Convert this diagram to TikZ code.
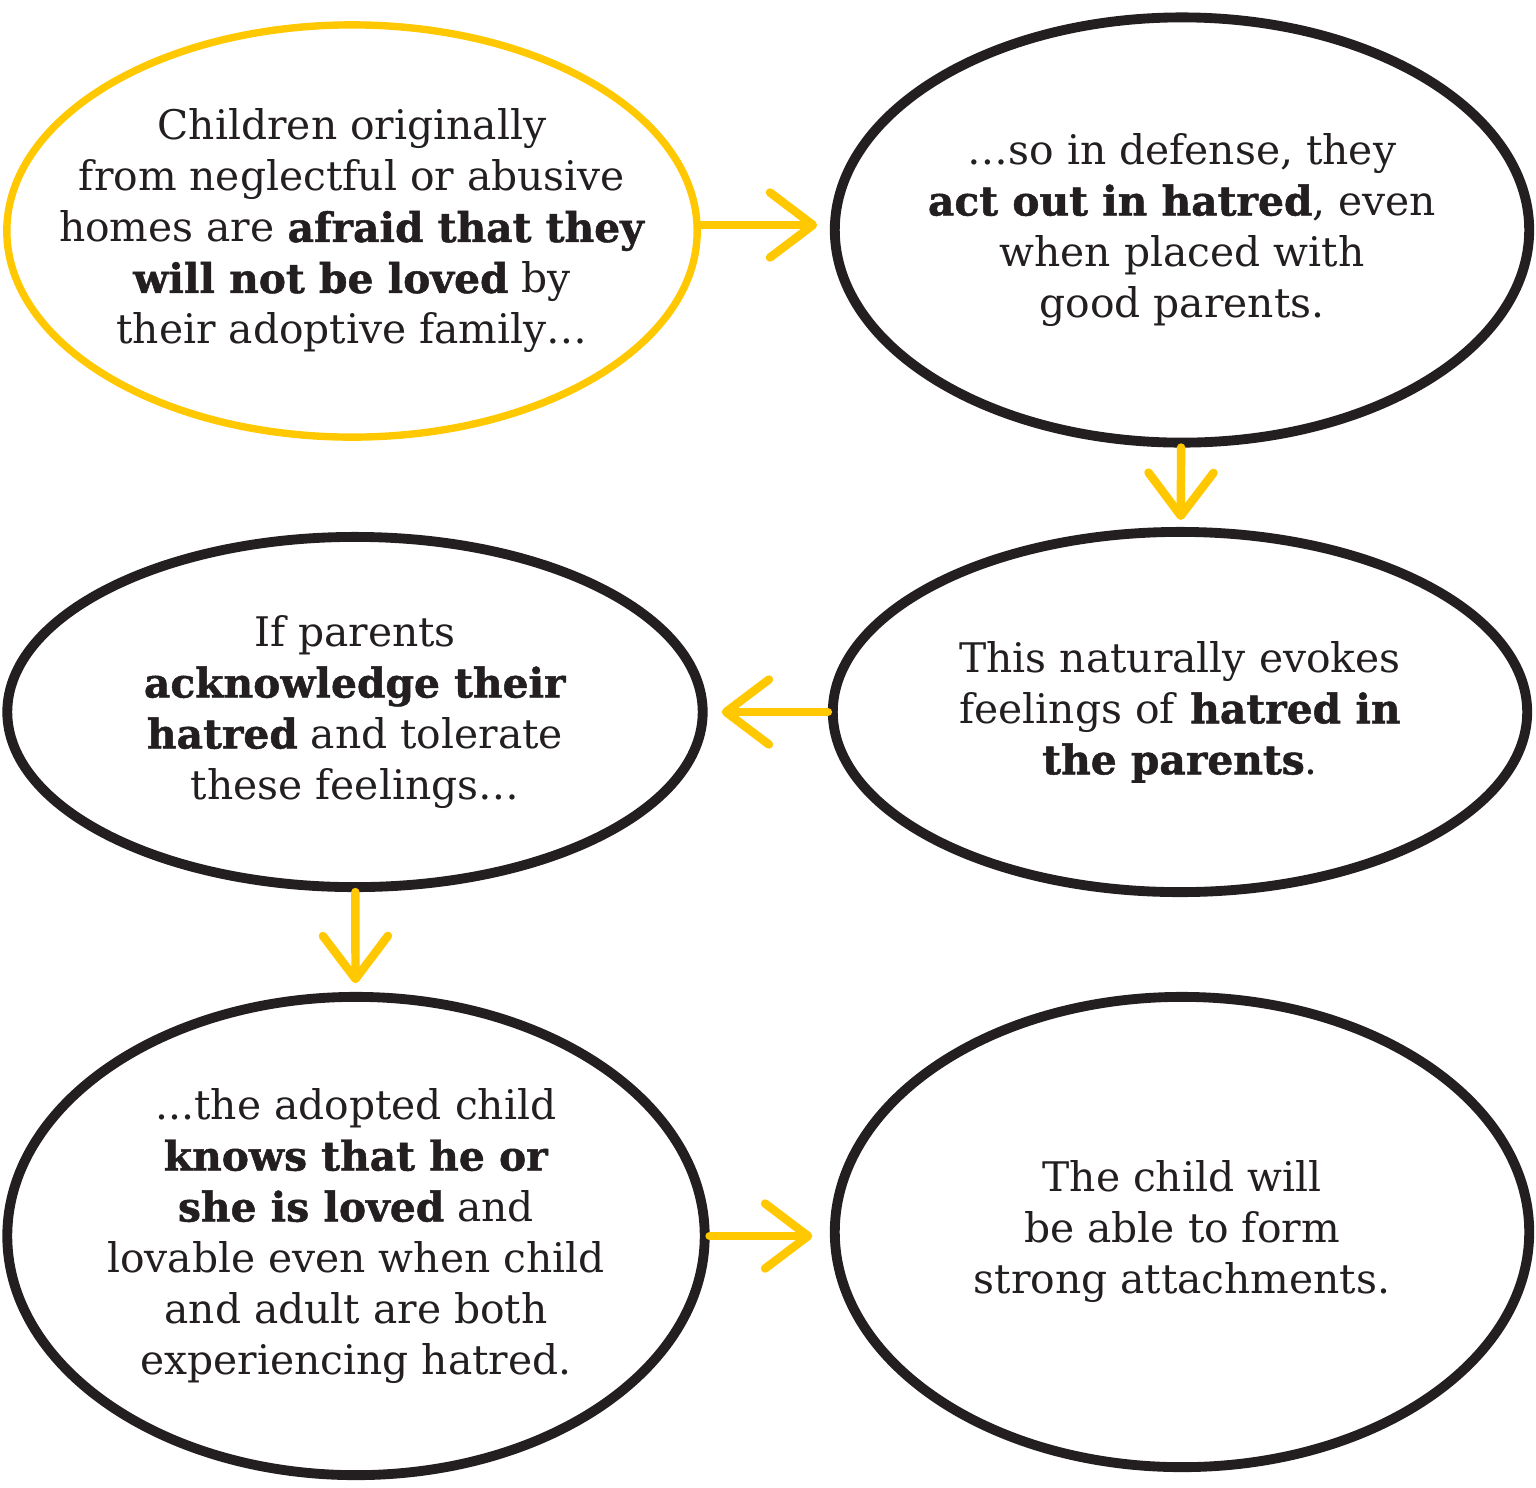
\documentclass[tikz,border=0pt]{standalone}
\usepackage{fontspec}
\setmainfont{DejaVu Serif}[BoldFeatures={FakeBold=1.2}]
\usetikzlibrary{shapes.geometric,arrows.meta}
\definecolor{hateyellow}{RGB}{255,200,0}
\definecolor{inkblack}{RGB}{35,31,32}
\begin{document}
\begin{tikzpicture}[x=0.01cm,y=-0.01cm,
  bubble/.style={ellipse,draw=inkblack,line width=2.8pt,inner sep=0pt},
  words/.style={align=center,text=inkblack,font=\fontsize{11.6}{14.5}\selectfont},
  flow/.style={draw=hateyellow,line width=2.4pt,line cap=round,
    -{Straight Barb[length=4.3mm,width=6.5mm,round]}}]
  \useasboundingbox (0,0) rectangle (1536,1487);
  % the six bubbles
  \node[bubble,draw=hateyellow,line width=2.1pt,minimum width=6.9cm,minimum height=4.12cm] (afraid) at (352,231) {};
  \node[bubble,minimum width=6.94cm,minimum height=4.25cm] (actout) at (1182,230) {};
  \node[bubble,minimum width=6.94cm,minimum height=3.6cm] (evokes) at (1180,712) {};
  \node[bubble,minimum width=6.95cm,minimum height=3.5cm] (accept) at (355,712) {};
  \node[bubble,minimum width=6.97cm,minimum height=4.78cm] (loved) at (356,1236) {};
  \node[bubble,minimum width=6.94cm,minimum height=4.7cm] (attach) at (1182,1232) {};
  % the texts
  \node[words] (afraidtxt) at (afraid) {Children originally\\ from neglectful or abusive\\ homes are \textbf{afraid that they}\\ \textbf{will not be loved} by\\ their adoptive family\ldots};
  \node[words] (actouttxt) at (actout) {\ldots so in defense, they\\ \textbf{act out in hatred}, even\\ when placed with\\ good parents.};
  \node[words] (evokestxt) at (evokes) {This naturally evokes\\ feelings of \textbf{hatred in}\\ \textbf{the parents}.};
  \node[words] (accepttxt) at (accept) {If parents\\ \textbf{acknowledge their}\\ \textbf{hatred} and tolerate\\ these feelings\ldots};
  \node[words] (lovedtxt) at (loved) {...the adopted child\\ \textbf{knows that he or}\\ \textbf{she is loved} and\\ lovable even when child\\ and adult are both\\ experiencing hatred.};
  \node[words] (attachtxt) at (attach) {The child will\\ be able to form\\ strong attachments.};
  % yellow arrows
  \draw[flow,shorten >=3.6pt] (afraid.east) ++(0,-6) -- (actout.west |- 0,225);
  \draw[flow,shorten >=2pt] (actout) -- (evokes);
  \draw[flow,shorten >=4pt] (evokes) -- (accept);
  \draw[flow,shorten >=2.5pt] (accept) -- (loved);
  \draw[flow,shorten >=5pt] (loved.east) -- (attach.west |- loved.east);
\end{tikzpicture}
\end{document}
